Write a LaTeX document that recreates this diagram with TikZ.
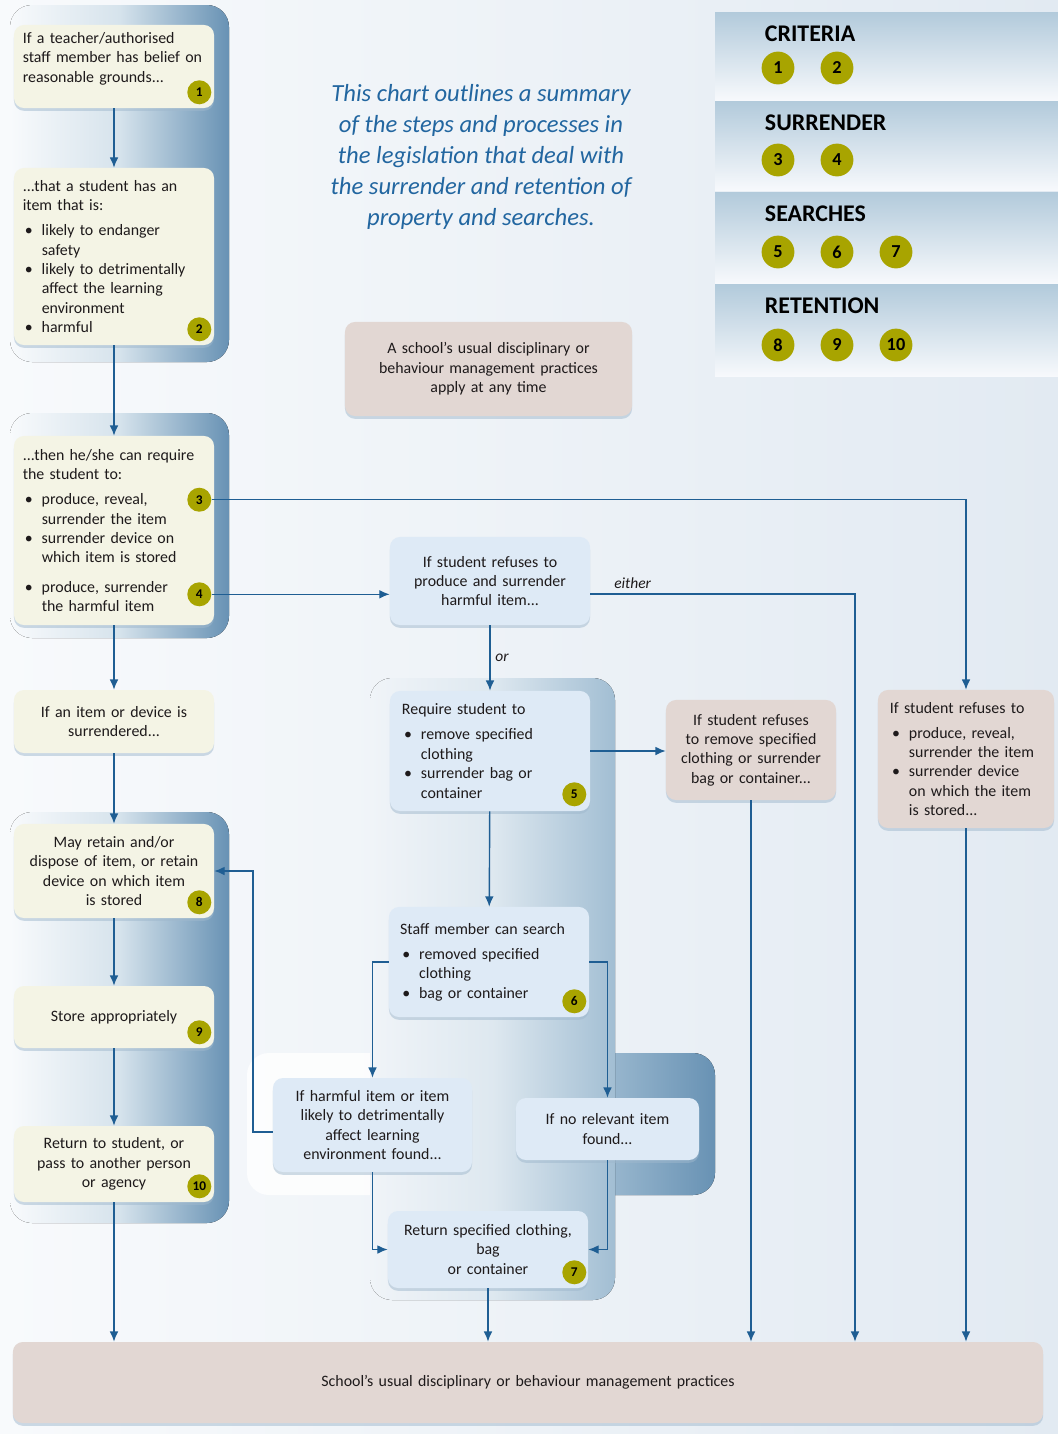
\documentclass[tikz,border=0pt]{standalone}
\usepackage{fontspec}
\setmainfont{Carlito}
\usetikzlibrary{arrows.meta,shadows}

\definecolor{BgLeft}{HTML}{F8FAFC}
\definecolor{BgRight}{HTML}{E2EAF2}
\definecolor{BgMid}{HTML}{F0F4F8}
\definecolor{SpineMid}{HTML}{D6E3EC}
\definecolor{SpineDark}{HTML}{6892B4}
\definecolor{SpineSoft}{HTML}{A2BED3}
\definecolor{Cream}{HTML}{F4F4E5}
\definecolor{PaleBlue}{HTML}{DEEAF6}
\definecolor{Tan}{HTML}{E2D7D3}
\definecolor{Olive}{HTML}{A8A400}
\definecolor{Flow}{HTML}{1F5E93}
\definecolor{Ink}{HTML}{1E1A1B}
\definecolor{TitleBlue}{HTML}{2266A0}
\definecolor{ShadowBlue}{HTML}{9FB8CD}
\definecolor{BandTop}{HTML}{B2CADB}
\definecolor{BandBottom}{HTML}{F7F9FC}

\newcommand{\bulitem}{\makebox[13.5pt][l]{\hspace{1.5pt}\textbullet}}
\newcommand{\bulhang}{\hspace*{13.5pt}}

\begin{document}
\begin{tikzpicture}[
    x=0.025cm,
    y=-0.025cm,
    font=\fontsize{11.3}{13.8}\selectfont,
    text=Ink,
    card/.style={rounded corners=2.5mm, minimum width=5cm, inner xsep=0.22cm,
                 text width=4.56cm,
                 drop shadow={shadow xshift=0pt, shadow yshift=-0.7mm,
                              fill=ShadowBlue, opacity=0.5}},
    cream/.style={card, fill=Cream},
    pale/.style={card, fill=PaleBlue},
    tan/.style={card, fill=Tan},
    num/.style={circle, fill=Olive, minimum size=0.6cm, inner sep=0pt,
                text=black, font=\fontsize{9.5}{10}\selectfont\bfseries},
    bignum/.style={num, minimum size=0.82cm,
                   font=\fontsize{13}{14}\selectfont\bfseries},
    spine/.style={rounded corners=0.55cm, left color=#1,
                  right color=SpineDark, middle color=SpineMid},
    spine/.default=BgLeft,
    spinetab/.style={rounded corners=0.55cm, left color=SpineSoft,
                     right color=SpineDark},
    flow/.style={draw=Flow, line width=1pt,
                 -{Latex[length=2.6mm,width=2.2mm]}},
    legendband/.style={top color=BandTop, bottom color=BandBottom},
    legendhead/.style={anchor=west, text=black,
                       font=\fontsize{17}{18}\selectfont\bfseries},
    cue/.style={font=\fontsize{11}{13}\selectfont\itshape}
]
\useasboundingbox (0,0) rectangle (1058,1434);
\fill[left color=BgLeft, right color=BgRight] (0,0) rectangle (1058,1434);

% Legend bands group the numbered steps by the part of the legislation.
\foreach \ytop/\ybot/\tag/\head in {12/100/criteria/CRITERIA,
        101/190/surrender/SURRENDER, 192/283/searches/SEARCHES,
        284/376/retention/RETENTION} {
    \fill[legendband] (715,\ytop) rectangle (1058,\ybot);
    \node[legendhead] (h\tag) at (760,\ytop+22) {\head};
}
\foreach \n/\x/\y in {1/778/68, 2/837/68, 3/778/160, 4/837/160,
        5/778/252, 6/837/252, 7/896/252, 8/778/345, 9/837/345, 10/896/345} {
    \node[bignum] (lg\n) at (\x,\y) {\n};
}

% Shaded spines sit behind the boxes of each stage.
\fill[spine] (10,5) rectangle (229,362);
\fill[spine] (10,413) rectangle (229,638);
\fill[spine] (10,812) rectangle (229,1223);
\fill[white, opacity=0.8, rounded corners=0.55cm] (247,1053) rectangle (480,1195);
\fill[spinetab] (590,1053) rectangle (715,1195);
\fill[rounded corners=0.55cm, left color=BgMid, right color=SpineSoft,
      middle color=SpineMid!70!BgMid] (370,678) rectangle (615,1300);

\node[font=\fontsize{17.5}{21.9}\selectfont\itshape, text=TitleBlue,
      align=center] (intro) at (481,157)
      {This chart outlines a summary\\of the steps and processes in\\the legislation that deal with\\the surrender and retention of\\property and searches.};

% Left column: criteria, surrender and retention.
\node[cream, align=left, minimum height=2.075cm, text depth=41pt]
      (belief) at (114,66.5)
      {If a teacher/authorised\\staff member has belief on\\reasonable grounds...};
\node[cream, align=left, minimum height=4.425cm] (hasitem) at (114,256.5)
      {...that a student has an\\item that is:\\[4pt]
       \bulitem likely to endanger\\\bulhang safety\\
       \bulitem likely to detrimentally\\\bulhang affect the learning\\\bulhang environment\\
       \bulitem harmful};
\node[cream, align=left, minimum height=4.725cm] (require) at (114,530.5)
      {...then he/she can require\\the student to:\\[4pt]
       \bulitem produce, reveal,\\\bulhang surrender the item\\
       \bulitem surrender device on\\\bulhang which item is stored\\[7pt]
       \bulitem produce, surrender\\\bulhang the harmful item};
\node[cream, align=center, minimum height=1.575cm] (surrendered) at (114,721.5)
      {If an item or device is\\surrendered...};
\node[cream, align=center, minimum height=2.35cm] (retain) at (114,871)
      {May retain and/or\\dispose of item, or retain\\device on which item\\is stored};
\node[cream, align=center, minimum height=1.55cm] (store) at (114,1017)
      {Store appropriately};
\node[cream, align=center, minimum height=1.9cm] (giveback) at (114,1164)
      {Return to student, or\\pass to another person\\or agency};

\node[num] (n1) at ([xshift=-0.375cm, yshift=0.4cm]belief.south east) {1};
\node[num] (n2) at ([xshift=-0.375cm, yshift=0.4cm]hasitem.south east) {2};
\node[num] (n3) at ([xshift=-0.375cm, yshift=-1.6cm]require.north east) {3};
\node[num] (n4) at ([xshift=-0.375cm, yshift=0.775cm]require.south east) {4};
\node[num] (n8) at ([xshift=-0.375cm, yshift=0.4cm]retain.south east) {8};
\node[num] (n9) at ([xshift=-0.375cm, yshift=0.4cm]store.south east) {9};
\node[num] (n10) at ([xshift=-0.375cm, yshift=0.4cm]giveback.south east) {10};

% Middle column: refusal and searches.
\node[tan, align=center, minimum width=7.175cm, text width=6.5cm,
      minimum height=2.35cm] (anytime) at (488.5,369)
      {A school’s usual disciplinary or\\behaviour management practices\\apply at any time};
\node[pale, align=center, minimum height=2.2cm] (refuseharm) at (490,581)
      {If student refuses to\\produce and surrender\\harmful item...};
\node[pale, align=left, minimum height=3cm, inner xsep=0.3cm,
      text width=4.4cm] (removal) at (490,751)
      {Require student to\\[4pt]
       \bulitem remove specified\\\bulhang clothing\\
       \bulitem surrender bag or\\\bulhang container};
\node[tan, align=center, minimum width=4.25cm, inner xsep=0.2cm,
      text width=3.85cm, minimum height=2.5cm] (refuseremove) at (751,750)
      {If student refuses\\to remove specified\\clothing or surrender\\bag or container...};
\node[pale, align=left, minimum height=2.75cm, inner xsep=0.28cm,
      text width=4.44cm] (search) at (489,962)
      {Staff member can search\\[4pt]
       \bulitem removed specified\\\bulhang clothing\\
       \bulitem bag or container};
\node[pale, align=center, minimum width=4.975cm, inner xsep=0.2cm,
      text width=4.575cm, minimum height=2.35cm] (harmfound) at (372.5,1125)
      {If harmful item or item\\likely to detrimentally\\affect learning\\environment found...};
\node[pale, align=center, minimum width=4.575cm, inner xsep=0.2cm,
      text width=4.175cm, minimum height=1.55cm] (nonefound) at (607.5,1129)
      {If no relevant item\\found...};
\node[pale, align=center, minimum height=1.925cm] (returnclothing) at (488,1249.5)
      {Return specified clothing,\\bag\\or container};

\node[num] (n5) at ([xshift=-0.4cm, yshift=0.425cm]removal.south east) {5};
\node[num] (n6) at ([xshift=-0.375cm, yshift=0.4cm]search.south east) {6};
\node[num] (n7) at ([xshift=-0.35cm, yshift=0.4cm]returnclothing.south east) {7};

% Right column and the shared outcome along the bottom.
\node[tan, align=left, minimum width=4.4cm, inner xsep=0.3cm, text width=3.8cm,
      minimum height=3.45cm] (refuseitem) at (966,759)
      {If student refuses to\\[4pt]
       \bulitem produce, reveal,\\\bulhang surrender the item\\
       \bulitem surrender device\\\bulhang on which the item\\\bulhang is stored...};
\node[tan, align=center, minimum width=25.75cm, text width=24cm,
      minimum height=2.025cm] (usual) at (528,1382.5)
      {School’s usual disciplinary or behaviour management practices};

\coordinate (eithercorner) at (855,594);
\coordinate (retainturn) at (253,1132);

% Connectors.
\draw[flow] (belief) -- (hasitem);
\draw[flow] (hasitem) -- (require);
\draw[flow] (require) -- (surrendered);
\draw[flow] (surrendered) -- (retain);
\draw[flow] (retain) -- (store);
\draw[flow] (store) -- (giveback);
\draw[flow] (giveback.south) -- (giveback.south |- usual.north);
\draw[flow] (n3.east) -| (refuseitem.north);
\draw[flow] (n4.east) -- (n4.east -| refuseharm.west);
\draw[flow] (refuseharm.east |- eithercorner)
      -- node[cue, above, pos=0.16] (either) {either} (eithercorner)
      -- (eithercorner |- usual.north);
\draw[flow] (refuseharm) -- node[cue, right] (orcue) {or} (removal);
\draw[flow] (removal.east) -- (removal.east -| refuseremove.west);
\draw[flow] (removal) -- (search);
\draw[flow] (search.west) -| (harmfound.north);
\draw[flow] (search.east) -| (nonefound.north);
\draw[flow] (harmfound.west |- retainturn) -- (retainturn) |- (retain.east);
\draw[flow] (harmfound.south) |- (returnclothing.west);
\draw[flow] (nonefound.south) |- (returnclothing.east);
\draw[flow] (returnclothing.south) -- (returnclothing.south |- usual.north);
\draw[flow] (refuseremove.south) -- (refuseremove.south |- usual.north);
\draw[flow] (refuseitem.south) -- (refuseitem.south |- usual.north);
\end{tikzpicture}
\end{document}
